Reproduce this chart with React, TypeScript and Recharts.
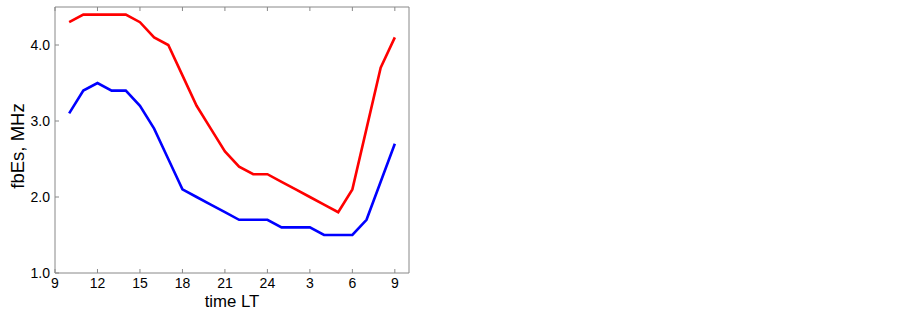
import { LineChart, Line, XAxis, YAxis } from "recharts"

const hours = [10, 11, 12, 13, 14, 15, 16, 17, 18, 19, 20, 21, 22, 23, 24, 25, 26, 27, 28, 29, 30, 31, 32, 33]
const upper = [4.3, 4.4, 4.4, 4.4, 4.4, 4.3, 4.1, 4.0, 3.6, 3.2, 2.9, 2.6, 2.4, 2.3, 2.3, 2.2, 2.1, 2.0, 1.9, 1.8, 2.1, 2.9, 3.7, 4.1]
const lower = [3.1, 3.4, 3.5, 3.4, 3.4, 3.2, 2.9, 2.5, 2.1, 2.0, 1.9, 1.8, 1.7, 1.7, 1.7, 1.6, 1.6, 1.6, 1.5, 1.5, 1.5, 1.7, 2.2, 2.7]
const xTicks = [9, 12, 15, 18, 21, 24, 27, 30, 33]
const yTicks = [1, 2, 3, 4]

const data = hours.map((h, i) => ({ h, upper: upper[i], lower: lower[i] }))

const AXIS = "#888888"
const FONT = "'Liberation Sans', Arial, Helvetica, sans-serif"

function LeftTick({ x, y, payload }: any) {
  return (
    <g>
      <line x1={x} x2={x + 4} y1={y} y2={y} stroke={AXIS} />
      <text x={x - 5} y={y + 5} textAnchor="end" fontSize={14} fontFamily={FONT} fill="#000">
        {Number(payload.value).toFixed(1)}
      </text>
    </g>
  )
}

function RightTick({ x, y }: any) {
  return <line x1={x - 4} x2={x} y1={y} y2={y} stroke={AXIS} />
}

function BottomTick({ x, y, payload }: any) {
  const v = payload.value > 24 ? payload.value - 24 : payload.value
  return (
    <g>
      <line x1={x} x2={x} y1={y - 4} y2={y} stroke={AXIS} />
      <text x={x} y={y + 15} textAnchor="middle" fontSize={14} fontFamily={FONT} fill="#000">
        {v}
      </text>
    </g>
  )
}

function TopTick({ x, y }: any) {
  return <line x1={x} x2={x} y1={y} y2={y + 4} stroke={AXIS} />
}

export default function App() {
  return (
    <div style={{ position: "absolute", left: 0, top: 0, width: 902, height: 314, background: "#fff" }}>
      <LineChart width={902} height={314} data={data} margin={{ top: 5, right: 488, bottom: 6, left: 10 }}>
        <XAxis
          xAxisId="bottom"
          dataKey="h"
          type="number"
          domain={[9, 34]}
          ticks={xTicks}
          height={35}
          stroke={AXIS}
          tickSize={0}
          tickMargin={0}
          tick={<BottomTick />}
          label={{
            content: ({ viewBox }: any) => (
              <text x={viewBox.x + viewBox.width / 2} y={viewBox.y + 34} textAnchor="middle" fontSize={16.8} fontFamily={FONT} fill="#000">
                time LT
              </text>
            ),
          }}
        />
        <XAxis
          xAxisId="top"
          orientation="top"
          dataKey="h"
          type="number"
          domain={[9, 34]}
          ticks={xTicks}
          height={2}
          stroke={AXIS}
          tickSize={0}
          tickMargin={0}
          tick={<TopTick />}
        />
        <YAxis
          yAxisId="left"
          type="number"
          domain={[1, 4.5]}
          ticks={yTicks}
          width={45}
          stroke={AXIS}
          tickSize={0}
          tickMargin={0}
          tick={<LeftTick />}
          label={{
            content: ({ viewBox }: any) => {
              const cx = viewBox.x + 7
              const cy = viewBox.y + viewBox.height / 2 + 6
              return (
                <text x={cx} y={cy} transform={`rotate(-90 ${cx} ${cy})`} textAnchor="middle" dominantBaseline="central" fontSize={18.5} fontFamily={FONT} fill="#000">
                  fbEs, MHz
                </text>
              )
            },
          }}
        />
        <YAxis
          yAxisId="right"
          orientation="right"
          type="number"
          domain={[1, 4.5]}
          ticks={yTicks}
          width={5}
          stroke={AXIS}
          tickSize={0}
          tickMargin={0}
          tick={<RightTick />}
        />
        <Line xAxisId="bottom" yAxisId="left" type="linear" dataKey="upper" stroke="#ff0000" strokeWidth={2.6} dot={false} isAnimationActive={false} />
        <Line xAxisId="bottom" yAxisId="left" type="linear" dataKey="lower" stroke="#0000ff" strokeWidth={2.6} dot={false} isAnimationActive={false} />
      </LineChart>
    </div>
  )
}
